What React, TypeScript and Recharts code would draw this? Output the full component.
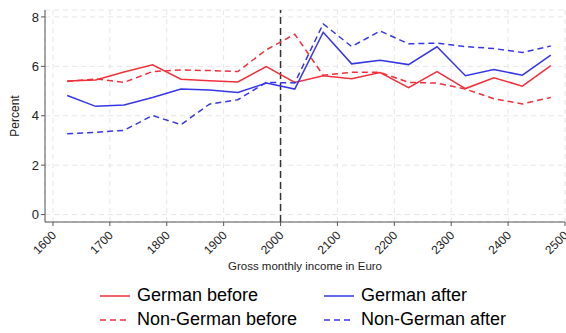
// Share of workers by income bin, before and after the 2000 Euro threshold
import { LineChart, Line, XAxis, YAxis, CartesianGrid, ReferenceLine, Label } from "recharts";

const incomeBins = [1625, 1675, 1725, 1775, 1825, 1875, 1925, 1975, 2025, 2075, 2125, 2175, 2225, 2275, 2325, 2375, 2425, 2475];
const germanBefore = [5.41, 5.45, 5.77, 6.06, 5.48, 5.42, 5.37, 5.99, 5.35, 5.62, 5.5, 5.75, 5.14, 5.79, 5.1, 5.54, 5.2, 6.03];
const germanAfter = [4.82, 4.38, 4.44, 4.74, 5.08, 5.04, 4.94, 5.32, 5.08, 7.38, 6.1, 6.25, 6.07, 6.79, 5.62, 5.87, 5.64, 6.45];
const nonGermanBefore = [5.39, 5.49, 5.35, 5.79, 5.85, 5.83, 5.79, 6.67, 7.3, 5.64, 5.76, 5.76, 5.35, 5.32, 5.08, 4.69, 4.48, 4.74];
const nonGermanAfter = [3.27, 3.33, 3.41, 4.01, 3.64, 4.47, 4.65, 5.35, 5.33, 7.72, 6.8, 7.43, 6.91, 6.94, 6.8, 6.72, 6.56, 6.82];

const xTicks = [1600, 1700, 1800, 1900, 2000, 2100, 2200, 2300, 2400, 2500];
const yTicks = [0, 2, 4, 6, 8];

const RED = "#f0303c";
const BLUE = "#3636e6";
const FONT = "'Liberation Sans', Arial, sans-serif";

const data = incomeBins.map((bin, i) => ({
  bin,
  germanBefore: germanBefore[i],
  germanAfter: germanAfter[i],
  nonGermanBefore: nonGermanBefore[i],
  nonGermanAfter: nonGermanAfter[i],
}));

const legendItems = [
  { label: "German before", color: RED, dashed: false, left: 100, top: 285 },
  { label: "German after", color: BLUE, dashed: false, left: 324, top: 285 },
  { label: "Non-German before", color: RED, dashed: true, left: 100, top: 309 },
  { label: "Non-German after", color: BLUE, dashed: true, left: 324, top: 309 },
];

function RotatedTick({ x, y, payload }: any) {
  return (
    <text
      x={x + 4}
      y={y + 8}
      transform={`rotate(-45, ${x + 4}, ${y + 8})`}
      textAnchor="end"
      fontSize={12}
      fill="#222"
      fontFamily={FONT}
    >
      {payload.value}
    </text>
  );
}

export default function App() {
  return (
    <div style={{ position: "absolute", left: 0, top: 0, width: 566, height: 333, background: "#fff", fontFamily: FONT }}>
      <LineChart width={566} height={333} data={data} margin={{ top: 10, right: 1, left: 0, bottom: 0 }}>
        <CartesianGrid stroke="#e6e6e6" strokeDasharray="5 4" vertical horizontal />
        <XAxis
          dataKey="bin"
          type="number"
          domain={[1586, 2500]}
          ticks={xTicks}
          height={111}
          tick={<RotatedTick />}
          tickSize={4}
          stroke="#555"
          interval={0}
        >
          <Label
            value="Gross monthly income in Euro"
            position="insideTop"
            offset={40}
            style={{ fontSize: 11.5, fill: "#222", fontFamily: FONT }}
          />
        </XAxis>
        <YAxis
          domain={[-0.3, 8.28]}
          ticks={yTicks}
          width={45}
          tickSize={4}
          stroke="#555"
          tick={{ fontSize: 13, fill: "#222", fontFamily: FONT }}
        >
          <Label
            value="Percent"
            angle={-90}
            position="insideLeft"
            offset={15}
            style={{ fontSize: 12, fill: "#222", fontFamily: FONT, textAnchor: "middle" }}
          />
        </YAxis>
        <ReferenceLine x={2000} stroke="#333" strokeWidth={1.5} strokeDasharray="7 4" />
        <Line dataKey="germanBefore" stroke={RED} strokeWidth={1.5} dot={false} isAnimationActive={false} />
        <Line dataKey="nonGermanBefore" stroke={RED} strokeWidth={1.5} strokeDasharray="6 4" dot={false} isAnimationActive={false} />
        <Line dataKey="germanAfter" stroke={BLUE} strokeWidth={1.5} dot={false} isAnimationActive={false} />
        <Line dataKey="nonGermanAfter" stroke={BLUE} strokeWidth={1.5} strokeDasharray="6 4" dot={false} isAnimationActive={false} />
      </LineChart>
      {legendItems.map((item) => (
        <div
          key={item.label}
          style={{ position: "absolute", left: item.left, top: item.top, display: "flex", alignItems: "center", fontSize: 18, color: "#000", whiteSpace: "nowrap" }}
        >
          <svg width={30} height={4} style={{ marginRight: 7 }}>
            <line x1={0} y1={2} x2={30} y2={2} stroke={item.color} strokeWidth={1.5} strokeDasharray={item.dashed ? "6 4" : undefined} />
          </svg>
          {item.label}
        </div>
      ))}
    </div>
  );
}
